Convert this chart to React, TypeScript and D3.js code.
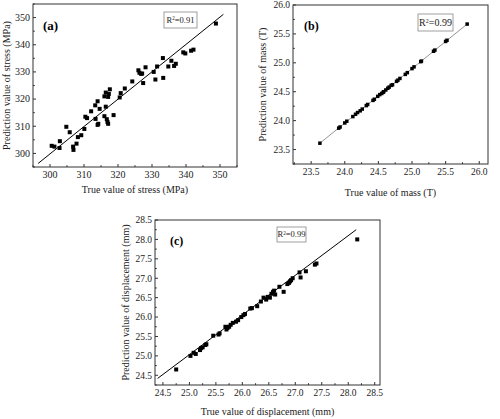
import React from 'react';
import * as d3 from 'd3';

// (a) stress
const stressTrue = [300.5, 301.3, 302.9, 302.8, 304.8, 305.8, 306.8, 306.9, 307.8, 308.2, 309.2, 310.1, 310.4, 310.9, 312.1, 313.3, 313.4, 314.0, 314.0, 314.2, 314.6, 316.0, 316.0, 316.4, 316.4, 316.7, 316.9, 317.1, 317.1, 317.6, 317.3, 318.7, 320.5, 320.8, 322.0, 324.2, 326.0, 326.3, 326.8, 327.1, 327.4, 328.1, 330.5, 331.0, 331.5, 333.2, 333.3, 334.8, 335.7, 336.5, 337.0, 339.2, 339.8, 341.5, 342.2, 348.8];
const stressPred = [302.8, 302.5, 304.5, 302.0, 309.8, 307.8, 302.5, 301.3, 303.6, 306.0, 306.7, 309.0, 313.5, 313.0, 315.5, 317.7, 312.7, 319.2, 310.5, 310.9, 316.4, 321.0, 313.7, 317.2, 322.4, 312.6, 311.6, 320.8, 310.9, 323.6, 321.9, 314.1, 320.6, 322.2, 323.9, 326.5, 330.6, 329.7, 329.3, 329.4, 325.9, 331.7, 330.0, 327.2, 332.0, 335.1, 327.8, 332.0, 334.1, 332.2, 333.0, 337.2, 336.8, 337.8, 338.2, 347.8];
const stressFitX = [296.5, 351];
const stressFitY = [296.3, 351.2];
const stressTicks = [300, 310, 320, 330, 340, 350];

// (b) mass
const massTrue = [23.63, 23.91, 23.93, 24.0, 24.03, 24.12, 24.16, 24.19, 24.23, 24.26, 24.32, 24.34, 24.42, 24.44, 24.49, 24.52, 24.55, 24.57, 24.58, 24.61, 24.64, 24.66, 24.69, 24.71, 24.77, 24.79, 24.82, 24.9, 24.93, 25.0, 25.03, 25.13, 25.14, 25.32, 25.34, 25.5, 25.52, 25.82];
const massPred = [23.61, 23.87, 23.89, 23.96, 23.99, 24.07, 24.11, 24.14, 24.17, 24.2, 24.26, 24.28, 24.35, 24.37, 24.42, 24.45, 24.47, 24.49, 24.5, 24.53, 24.56, 24.58, 24.61, 24.62, 24.68, 24.7, 24.73, 24.8, 24.83, 24.9, 24.93, 25.02, 25.03, 25.2, 25.22, 25.37, 25.39, 25.67];
const massTicks = [23.5, 24.0, 24.5, 25.0, 25.5, 26.0];

// (c) displacement
const dispTrue = [24.75, 25.02, 25.08, 25.12, 25.2, 25.22, 25.25, 25.3, 25.32, 25.45, 25.55, 25.57, 25.68, 25.7, 25.72, 25.75, 25.78, 25.82, 25.88, 25.92, 25.98, 26.02, 26.05, 26.15, 26.18, 26.28, 26.35, 26.4, 26.45, 26.48, 26.52, 26.55, 26.58, 26.6, 26.62, 26.7, 26.78, 26.85, 26.88, 26.9, 26.92, 26.95, 27.08, 27.1, 27.2, 27.37, 27.4, 28.17];
const dispPred = [24.65, 25.0, 25.08, 25.05, 25.15, 25.2, 25.22, 25.28, 25.3, 25.52, 25.55, 25.58, 25.75, 25.68, 25.72, 25.75, 25.8, 25.85, 25.88, 25.92, 26.0, 26.05, 26.08, 26.22, 26.23, 26.28, 26.4, 26.5, 26.45, 26.52, 26.5, 26.6, 26.65, 26.68, 26.58, 26.78, 26.65, 26.85, 26.88, 26.92, 26.95, 27.0, 27.15, 27.02, 27.18, 27.35, 27.38, 28.0];
const dispFitX = [24.4, 28.15];
const dispFitY = [24.42, 28.25];
const dispTicks = [24.5, 25.0, 25.5, 26.0, 26.5, 27.0, 27.5, 28.0, 28.5];

const FONT = '"Liberation Serif", "Times New Roman", serif';

type PanelProps = {
  box: { left: number; right: number; top: number; bottom: number };
  xDomain: [number, number];
  yDomain: [number, number];
  ticks: number[];
  minorStep: number;
  fmt: (v: number) => string;
  xs: number[];
  ys: number[];
  fitX: number[];
  fitY: number[];
  fitColor: string;
  fitWidth: number;
  markerSize: number;
  tag: string;
  tagPos: [number, number];
  tagSize: number;
  r2: string;
  r2Box: { x: number; y: number; w: number; h: number; size: number };
  xTitle: string;
  yTitle: string;
  xTitleY: number;
  yTitleX: number;
  tickSize: number;
  titleSize: number;
};

const Panel: React.FC<PanelProps> = (p) => {
  const { box } = p;
  const x = d3.scaleLinear().domain(p.xDomain).range([box.left, box.right]);
  const y = d3.scaleLinear().domain(p.yDomain).range([box.bottom, box.top]);
  const eps = 1e-6;
  const minors = (dom: [number, number]) =>
    d3.range(Math.ceil(dom[0] / p.minorStep) * p.minorStep, dom[1] + eps, p.minorStep)
      .filter(v => !p.ticks.some(t => Math.abs(t - v) < eps));
  const xTicks = p.ticks.filter(t => t >= p.xDomain[0] - eps && t <= p.xDomain[1] + eps);
  const yTicks = p.ticks.filter(t => t >= p.yDomain[0] - eps && t <= p.yDomain[1] + eps);
  const line = d3.line<number>().x((_, i) => x(p.fitX[i])).y((_, i) => y(p.fitY[i]));
  const s = p.markerSize;
  const cx = (box.left + box.right) / 2;
  const cy = (box.top + box.bottom) / 2;
  return (
    <g fontFamily={FONT}>
      <path d={line(p.fitX) || ''} fill="none" stroke={p.fitColor} strokeWidth={p.fitWidth} />
      {p.xs.map((v, i) => (
        <rect key={i} x={x(v) - s / 2} y={y(p.ys[i]) - s / 2} width={s} height={s} fill="#000" />
      ))}
      <rect x={box.left} y={box.top} width={box.right - box.left} height={box.bottom - box.top}
        fill="none" stroke="#333" strokeWidth={1} />
      {xTicks.map(t => (
        <g key={'xt' + t}>
          <line x1={x(t)} x2={x(t)} y1={box.bottom} y2={box.bottom - 3} stroke="#333" />
          <text x={x(t)} y={box.bottom + 11} textAnchor="middle" fontSize={p.tickSize} fill="#222">{p.fmt(t)}</text>
        </g>
      ))}
      {minors(p.xDomain).map(t => (
        <line key={'xm' + t} x1={x(t)} x2={x(t)} y1={box.bottom} y2={box.bottom - 1.8} stroke="#333" />
      ))}
      {yTicks.map(t => (
        <g key={'yt' + t}>
          <line x1={box.left} x2={box.left + 3} y1={y(t)} y2={y(t)} stroke="#333" />
          <text x={box.left - 3} y={y(t) + 3.4} textAnchor="end" fontSize={p.tickSize} fill="#222">{p.fmt(t)}</text>
        </g>
      ))}
      {minors(p.yDomain).map(t => (
        <line key={'ym' + t} x1={box.left} x2={box.left + 1.8} y1={y(t)} y2={y(t)} stroke="#333" />
      ))}
      <text x={cx} y={p.xTitleY} textAnchor="middle" fontSize={p.titleSize} fill="#222">{p.xTitle}</text>
      <text transform={`translate(${p.yTitleX},${cy}) rotate(-90)`} textAnchor="middle" fontSize={p.titleSize} fill="#222">{p.yTitle}</text>
      <text x={p.tagPos[0]} y={p.tagPos[1]} fontSize={p.tagSize} fontWeight="bold" fill="#000">{p.tag}</text>
      <rect x={p.r2Box.x} y={p.r2Box.y} width={p.r2Box.w} height={p.r2Box.h} fill="#fff" stroke="#888" strokeWidth={0.8} />
      <text x={p.r2Box.x + p.r2Box.w / 2} y={p.r2Box.y + p.r2Box.h / 2 + p.r2Box.size * 0.35} textAnchor="middle" fontSize={p.r2Box.size} fill="#222">
        R<tspan dy={-p.r2Box.size * 0.35} fontSize={p.r2Box.size * 0.6}>2</tspan>
        <tspan dy={p.r2Box.size * 0.35}>={p.r2}</tspan>
      </text>
    </g>
  );
};

export default function App() {
  return (
    <svg width={500} height={419} style={{ position: 'absolute', left: 0, top: 0, background: '#fff' }}>
      <rect width={500} height={419} fill="#fff" />
      <Panel
        box={{ left: 33, right: 237, top: 4, bottom: 167 }}
        xDomain={[295, 355]} yDomain={[295, 355]}
        ticks={stressTicks} minorStep={5} fmt={v => String(v)}
        xs={stressTrue} ys={stressPred} fitX={stressFitX} fitY={stressFitY}
        fitColor="#000" fitWidth={1}
        markerSize={4} tag="(a)" tagPos={[43, 30]} tagSize={13}
        r2="0.91" r2Box={{ x: 164, y: 12, w: 33, h: 16, size: 8.5 }}
        xTitle="True value of stress (MPa)" yTitle="Prediction value of stress (MPa)"
        xTitleY={193} yTitleX={10} tickSize={10} titleSize={10}
      />
      <Panel
        box={{ left: 293, right: 488, top: 5, bottom: 164 }}
        xDomain={[23.23, 26.13]} yDomain={[23.25, 26.0]}
        ticks={massTicks} minorStep={0.25} fmt={d3.format('.1f')}
        xs={massTrue} ys={massPred} fitX={[massTrue[0], massTrue[massTrue.length - 1]]}
        fitY={[massPred[0], massPred[massPred.length - 1]]}
        fitColor="#777" fitWidth={0.8}
        markerSize={3.5} tag="(b)" tagPos={[304, 30]} tagSize={12}
        r2="0.99" r2Box={{ x: 418, y: 14, w: 35, h: 17, size: 10 }}
        xTitle="True value of mass (T)" yTitle="Prediction value of mass (T)"
        xTitleY={196} yTitleX={266} tickSize={9.5} titleSize={10}
      />
      <Panel
        box={{ left: 155, right: 380, top: 220, bottom: 385 }}
        xDomain={[24.35, 28.6]} yDomain={[24.25, 28.5]}
        ticks={dispTicks} minorStep={0.25} fmt={d3.format('.1f')}
        xs={dispTrue} ys={dispPred} fitX={dispFitX} fitY={dispFitY}
        fitColor="#000" fitWidth={1}
        markerSize={4} tag="(c)" tagPos={[170, 245]} tagSize={12}
        r2="0.99" r2Box={{ x: 277, y: 227, w: 29, h: 15, size: 8.5 }}
        xTitle="True value of displacement (mm)" yTitle="Prediction value of displacement (mm)"
        xTitleY={415} yTitleX={129} tickSize={9.5} titleSize={10}
      />
    </svg>
  );
}
